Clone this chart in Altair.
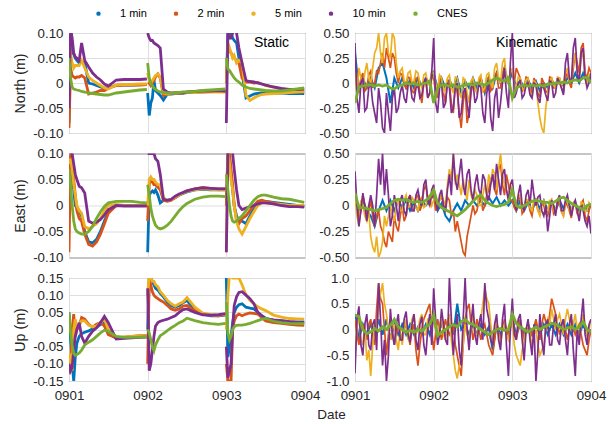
import altair as alt
import pandas as pd

SERIES = ["1 min", "2 min", "5 min", "10 min", "CNES"]
COLORS = ["#0072BD", "#D95319", "#EDB120", "#7E2F8E", "#77AC30"]
X_TICKS = [0, 1, 2, 3]
X_LABELS = ["0901", "0902", "0903", "0904"]

# sample offsets (days) inside each day for the static solutions
DAY_OFFSETS = [0.0, 0.02, 0.04, 0.06, 0.08, 0.1, 0.13, 0.16, 0.2, 0.25,
               0.3, 0.35, 0.4, 0.45, 0.5, 0.6, 0.7, 0.8, 0.9, 0.99]
# sample times (days) for the kinematic solutions (main and in-between samples)
K_TIMES = [round(0.05 * i, 3) for i in range(61)]
K_MID = [round(0.025 + 0.05 * i, 3) for i in range(60)]

# ---------------- Static North ----------------
NS_1 = [-0.08, 0.07, 0.06, 0.058, 0.05, 0.045, 0.04, 0.042, 0.04, 0.0, -0.002, -0.005, -0.008, -0.01, -0.01, -0.005, -0.004, -0.004, -0.003, -0.003,
        -0.02, -0.065, -0.04, -0.03, 0.005, -0.015, -0.02, -0.025, -0.034, -0.022, -0.022, -0.021, -0.02, -0.02, -0.019, -0.018, -0.017, -0.017, -0.016, -0.016,
        0.0, 0.1, 0.1, 0.1, 0.09, 0.085, 0.08, 0.05, 0.02, -0.03, -0.026, -0.022, -0.021, -0.02, -0.02, -0.02, -0.02, -0.021, -0.021, -0.021]
NS_2 = [-0.09, 0.03, 0.015, 0.012, 0.01, 0.012, 0.012, 0.015, 0.01, -0.022, -0.02, -0.018, -0.015, -0.015, -0.01, -0.005, -0.004, -0.004, -0.004, -0.003,
        0.0, 0.0, -0.005, 0.0, 0.005, 0.012, 0.018, 0.01, -0.025, -0.022, -0.021, -0.02, -0.02, -0.019, -0.019, -0.018, -0.018, -0.017, -0.017, -0.017,
        0.0, 0.07, 0.065, 0.06, 0.055, 0.05, 0.045, 0.04, 0.01, 0.002, 0.002, 0.0, 0.001, -0.002, -0.005, -0.008, -0.012, -0.015, -0.017, -0.018]
NS_5 = [0.09, 0.06, 0.04, 0.03, 0.035, 0.035, 0.035, 0.045, 0.03, 0.012, 0.005, 0.0, -0.005, -0.01, -0.012, -0.004, -0.003, -0.003, -0.002, -0.002,
        0.02, 0.005, 0.0, 0.005, 0.01, 0.015, 0.018, 0.012, -0.02, -0.022, -0.021, -0.021, -0.02, -0.02, -0.019, -0.019, -0.018, -0.018, -0.018, -0.018,
        0.0, 0.08, 0.07, 0.06, 0.05, 0.055, 0.04, 0.045, 0.04, -0.025, -0.035, -0.03, -0.026, -0.023, -0.022, -0.021, -0.02, -0.019, -0.018, -0.017]
NS_10 = [-0.05, 0.11, 0.09, 0.06, 0.052, 0.05, 0.045, 0.08, 0.045, 0.032, 0.02, 0.012, 0.006, -0.002, -0.006, 0.006, 0.007, 0.007, 0.007, 0.008,
         0.1, 0.09, 0.085, 0.085, 0.08, 0.078, 0.075, 0.07, -0.012, -0.018, -0.02, -0.02, -0.02, -0.02, -0.018, -0.017, -0.016, -0.016, -0.015, -0.016,
         -0.08, 0.1, 0.09, 0.09, 0.1, 0.11, 0.1, 0.07, 0.04, 0.005, 0.003, 0.002, 0.0, -0.002, -0.004, -0.008, -0.011, -0.013, -0.013, -0.012]
NS_C = [0.05, 0.01, -0.008, -0.012, -0.013, -0.014, -0.015, -0.017, -0.018, -0.02, -0.021, -0.022, -0.023, -0.024, -0.024, -0.02, -0.018, -0.016, -0.014, -0.013,
        0.04, 0.01, 0.0, -0.005, -0.01, -0.013, -0.016, -0.018, -0.019, -0.02, -0.02, -0.02, -0.019, -0.018, -0.018, -0.017, -0.015, -0.014, -0.013, -0.012,
        0.05, 0.028, 0.025, 0.02, 0.015, 0.01, 0.005, 0.002, -0.004, -0.008, -0.011, -0.012, -0.013, -0.014, -0.015, -0.016, -0.016, -0.014, -0.012, -0.01]

# ---------------- Static East ----------------
ES_1 = [0.0, 0.09, 0.06, 0.03, 0.0, -0.005, -0.01, -0.02, -0.05, -0.07, -0.072, -0.065, -0.05, -0.03, -0.012, 0.0, 0.0, 0.0, 0.0, 0.0,
        -0.09, 0.02, 0.025, 0.028, 0.025, 0.03, 0.02, 0.005, 0.01, 0.01, 0.012, 0.015, 0.02, 0.023, 0.026, 0.03, 0.031, 0.03, 0.03, 0.03,
        0.0, 0.1, 0.09, 0.06, 0.03, 0.0, -0.02, -0.03, -0.03, -0.035, -0.02, -0.005, 0.005, 0.008, 0.008, 0.006, 0.004, 0.002, 0.0, 0.0]
ES_2 = [-0.09, 0.1, 0.08, 0.05, 0.02, -0.01, -0.025, -0.03, -0.055, -0.075, -0.078, -0.07, -0.055, -0.035, -0.015, 0.0, 0.0, 0.0, 0.0, 0.0,
        -0.03, 0.04, 0.05, 0.045, 0.04, 0.04, 0.035, 0.03, 0.01, 0.008, 0.01, 0.015, 0.02, 0.025, 0.028, 0.032, 0.035, 0.033, 0.032, 0.032,
        0.0, 0.11, 0.1, 0.07, 0.04, 0.0, -0.03, -0.035, -0.025, -0.02, -0.01, 0.0, 0.008, 0.01, 0.008, 0.005, 0.002, 0.0, -0.002, -0.002]
ES_5 = [0.08, 0.09, 0.07, 0.04, 0.02, 0.0, -0.01, -0.015, -0.04, -0.045, -0.04, -0.035, -0.025, -0.01, 0.0, 0.002, 0.0, 0.0, 0.0, 0.0,
        0.0, 0.05, 0.055, 0.05, 0.05, 0.045, 0.04, 0.04, 0.015, 0.01, 0.012, 0.016, 0.02, 0.024, 0.027, 0.03, 0.032, 0.031, 0.03, 0.03,
        -0.09, 0.1, 0.08, 0.05, 0.03, 0.0, -0.03, -0.045, -0.055, -0.04, -0.025, -0.012, 0.0, 0.005, 0.005, 0.003, 0.002, 0.0, 0.0, 0.0]
ES_10 = [0.1, 0.12, 0.1, 0.08, 0.06, 0.05, 0.037, 0.034, 0.024, -0.03, -0.034, -0.032, -0.027, -0.018, -0.008, 0.0, -0.001, -0.001, -0.001, -0.001,
         0.1, 0.1, 0.1, 0.1, 0.1, 0.09, 0.085, 0.06, 0.012, 0.01, 0.012, 0.018, 0.022, 0.025, 0.028, 0.032, 0.034, 0.033, 0.032, 0.032,
         -0.09, 0.1, 0.12, 0.12, 0.1, 0.07, 0.03, 0.0, -0.008, -0.005, -0.002, 0.0, 0.003, 0.005, 0.005, 0.003, 0.0, -0.002, -0.002, -0.003]
ES_C = [0.07, 0.04, 0.0, -0.03, -0.045, -0.05, -0.053, -0.055, -0.055, -0.05, -0.04, -0.025, -0.012, -0.002, 0.005, 0.008, 0.008, 0.008, 0.006, 0.005,
        0.04, 0.02, -0.005, -0.02, -0.03, -0.038, -0.043, -0.045, -0.043, -0.038, -0.03, -0.02, -0.01, -0.002, 0.004, 0.012, 0.016, 0.018, 0.018, 0.017,
        0.06, 0.03, 0.0, -0.02, -0.03, -0.032, -0.03, -0.025, -0.02, -0.01, 0.0, 0.01, 0.017, 0.02, 0.02, 0.016, 0.013, 0.012, 0.009, 0.006]

# ---------------- Static Up ----------------
US_1 = [0.05, -0.03, -0.1, -0.15, -0.08, -0.04, -0.02, -0.012, -0.008, -0.004, 0.002, 0.006, 0.015, 0.02, -0.01, -0.026, -0.024, -0.022, -0.021, -0.02,
        0.0, 0.15, 0.15, 0.14, 0.13, 0.12, 0.115, 0.105, 0.095, 0.08, 0.07, 0.065, 0.07, 0.078, 0.085, 0.055, 0.045, 0.04, 0.04, 0.042,
        0.15, -0.08, -0.05, -0.02, 0.02, 0.05, 0.065, 0.072, 0.075, 0.065, 0.062, 0.06, 0.05, 0.04, 0.032, 0.027, 0.025, 0.023, 0.022, 0.022]
US_2 = [-0.13, -0.1, 0.0, 0.045, -0.02, 0.0, 0.01, 0.035, 0.03, 0.015, 0.007, 0.015, 0.02, 0.01, -0.015, -0.024, -0.022, -0.02, -0.018, -0.018,
        -0.1, 0.15, 0.13, 0.11, 0.1, 0.095, 0.09, 0.085, 0.08, 0.07, 0.06, 0.056, 0.06, 0.068, 0.07, 0.055, 0.046, 0.042, 0.04, 0.044,
        -0.1, -0.15, -0.15, -0.15, 0.0, 0.025, 0.04, 0.045, 0.04, 0.045, 0.048, 0.047, 0.045, 0.035, 0.025, 0.02, 0.018, 0.015, 0.013, 0.012]
US_5 = [-0.1, -0.07, -0.12, 0.0, 0.03, 0.0, 0.015, 0.025, 0.025, 0.012, 0.008, 0.01, 0.02, 0.03, 0.0, -0.022, -0.022, -0.02, -0.019, -0.018,
        0.1, 0.16, 0.15, 0.14, 0.14, 0.13, 0.125, 0.11, 0.1, 0.085, 0.075, 0.068, 0.075, 0.08, 0.093, 0.065, 0.048, 0.043, 0.042, 0.045,
        0.0, 0.1, 0.16, 0.16, 0.15, 0.15, 0.15, 0.15, 0.13, 0.1, 0.085, 0.075, 0.066, 0.06, 0.055, 0.042, 0.036, 0.032, 0.031, 0.03]
US_10 = [-0.1, -0.12, -0.11, -0.06, -0.02, 0.0, 0.02, -0.02, -0.04, -0.02, -0.005, 0.005, 0.02, 0.038, 0.02, -0.028, -0.026, -0.024, -0.023, -0.022,
         0.12, -0.12, -0.1, -0.06, -0.02, 0.01, 0.02, 0.024, 0.027, 0.03, 0.035, 0.04, 0.05, 0.058, 0.06, 0.05, 0.043, 0.042, 0.043, 0.046,
         -0.05, -0.14, -0.12, -0.1, 0.0, 0.07, 0.095, 0.108, 0.11, 0.1, 0.09, 0.075, 0.05, 0.04, 0.032, 0.028, 0.026, 0.023, 0.021, 0.02]
US_C = [0.05, -0.01, -0.045, -0.07, -0.075, -0.073, -0.068, -0.06, -0.045, -0.037, -0.03, -0.02, -0.01, -0.002, -0.005, -0.02, -0.023, -0.023, -0.022, -0.021,
        0.0, -0.01, -0.03, -0.05, -0.062, -0.045, -0.03, -0.018, -0.012, -0.003, 0.005, 0.012, 0.02, 0.025, 0.033, 0.026, 0.02, 0.017, 0.015, 0.018,
        0.08, -0.01, -0.03, -0.02, 0.0, 0.008, 0.012, 0.013, 0.013, 0.015, 0.018, 0.022, 0.026, 0.03, 0.032, 0.024, 0.02, 0.018, 0.017, 0.017]

# ---------------- Kinematic North ----------------
KN_1 = [0.3, -0.05, 0.05, -0.05, 0.05, -0.05, 0.15, 0.2, 0.05, -0.2,
        0.05, -0.05, 0.05, -0.05, 0.03, -0.05, 0.05, -0.03, 0.05, 0.0,
        0.1, -0.05, 0.05, -0.05, 0.03, -0.05, 0.05, -0.1, 0.02, -0.05,
        0.05, -0.05, 0.05, -0.1, 0.05, -0.05, 0.1, 0.0, 0.15, 0.0,
        0.1, -0.05, 0.03, -0.05, 0.03, -0.05, 0.02, -0.08, 0.0, -0.05,
        0.03, -0.03, 0.03, -0.03, 0.05, 0.0, 0.1, 0.0, 0.1, 0.0, 0.05]
KN_2 = [0.2, -0.1, 0.1, -0.05, 0.12, 0.0, 0.1, 0.3, 0.35, 0.15,
        0.25, 0.0, 0.08, -0.05, 0.05, -0.1, 0.05, -0.2, 0.02, -0.1,
        0.05, -0.15, 0.02, -0.2, 0.0, -0.3, -0.1, -0.45, -0.05, -0.3,
        0.0, -0.1, 0.05, -0.1, 0.05, -0.05, 0.1, -0.05, 0.15, 0.0,
        0.1, 0.15, 0.05, -0.05, 0.05, -0.1, 0.0, -0.15, 0.0, -0.1,
        0.05, -0.05, 0.05, -0.1, 0.1, -0.05, 0.3, 0.1, 0.4, 0.05, 0.1]
KN_2M = [0.05, 0.05, -0.08, 0.08, -0.05, 0.12, 0.2, 0.15, 0.25, 0.3,
         0.1, 0.1, -0.02, 0.06, -0.08, 0.05, -0.1, 0.0, -0.15, 0.05,
         -0.1, 0.05, -0.1, 0.02, -0.2, 0.0, -0.3, -0.2, -0.4, -0.1,
         -0.05, 0.02, -0.05, 0.05, -0.08, 0.08, -0.05, 0.1, 0.02, 0.12,
         0.0, 0.1, -0.08, 0.06, -0.05, 0.05, -0.1, 0.05, -0.08, 0.06,
         -0.05, 0.05, -0.05, 0.05, 0.0, 0.15, 0.2, 0.35, 0.1, 0.15]
KN_5 = [0.1, 0.15, -0.05, 0.2, 0.0, 0.3, 0.5, 0.2, 0.5, 0.25,
        0.45, 0.05, 0.15, 0.0, 0.12, 0.02, 0.1, -0.05, 0.1, 0.0,
        0.1, -0.1, 0.05, -0.05, 0.08, -0.1, 0.05, -0.15, 0.03, -0.2,
        0.05, -0.1, 0.08, -0.05, 0.1, -0.05, 0.2, 0.0, 0.25, 0.0,
        0.15, -0.05, 0.05, -0.08, 0.05, -0.15, 0.0, -0.35, -0.5, -0.1,
        0.05, -0.05, 0.05, 0.0, 0.15, 0.05, 0.3, 0.05, 0.3, 0.0, 0.1]
KN_5M = [-0.1, 0.05, 0.1, 0.05, 0.15, 0.35, 0.3, 0.45, 0.3, 0.5,
         0.2, 0.12, 0.02, 0.1, 0.0, 0.12, 0.0, 0.08, -0.02, 0.12,
         0.0, 0.08, -0.1, 0.05, -0.05, 0.06, -0.1, 0.05, -0.1, 0.02,
         -0.05, 0.05, -0.08, 0.08, 0.0, 0.15, 0.05, 0.2, 0.05, 0.1,
         0.0, 0.06, -0.05, 0.03, -0.1, 0.02, -0.2, -0.45, -0.25, 0.02,
         -0.02, 0.06, -0.02, 0.1, 0.0, 0.2, 0.1, 0.25, 0.05, 0.08]
KN_10 = [0.4, -0.3, 0.05, -0.25, 0.0, -0.3, -0.05, -0.45, -0.1, -0.48,
         -0.05, -0.25, -0.02, -0.2, 0.0, -0.18, -0.02, -0.12, 0.05, -0.1,
         0.45, -0.3, 0.0, -0.2, -0.05, -0.25, 0.0, -0.3, -0.05, -0.35,
         0.0, -0.15, -0.05, -0.4, 0.0, -0.48, -0.05, -0.2, 0.15, -0.25,
         0.5, -0.1, 0.02, -0.12, 0.0, -0.15, -0.02, -0.2, -0.05, -0.18,
         0.0, -0.1, 0.0, -0.12, 0.3, 0.0, 0.45, 0.0, 0.35, -0.05, 0.1]
KN_10M = [-0.15, 0.0, -0.28, -0.05, -0.2, -0.4, -0.2, -0.5, -0.3, -0.15,
          -0.3, -0.1, -0.15, -0.02, -0.15, -0.05, -0.15, 0.0, -0.15, 0.1,
          -0.2, -0.05, -0.25, 0.0, -0.3, -0.05, -0.35, -0.1, -0.2, -0.05,
          -0.2, 0.0, -0.3, -0.1, -0.35, -0.15, -0.35, 0.0, -0.1, 0.2,
          -0.15, 0.0, -0.15, -0.02, -0.12, 0.0, -0.15, 0.0, -0.12, 0.02,
          -0.15, 0.05, -0.05, 0.2, 0.05, 0.35, 0.1, 0.3, 0.05, 0.0]
KN_C = [-0.2, -0.04, -0.03, -0.02, -0.02, -0.03, -0.02, -0.03, -0.02, -0.05,
        -0.06, -0.03, -0.02, 0.0, -0.01, 0.0, -0.02, -0.01, 0.0, 0.02,
        -0.2, -0.05, -0.02, -0.02, -0.03, -0.02, -0.04, -0.03, -0.02, -0.01,
        -0.02, 0.0, -0.01, -0.02, 0.0, 0.03, 0.05, 0.03, 0.02, 0.05,
        -0.15, -0.05, -0.03, -0.02, -0.03, -0.02, -0.03, -0.02, -0.03, -0.01,
        -0.01, 0.0, 0.0, 0.01, 0.0, 0.02, 0.03, 0.02, 0.05, 0.06, 0.0]

# ---------------- Kinematic East ----------------
KE_1 = [0.1, -0.05, 0.05, -0.05, -0.1, -0.2, -0.05, 0.05, -0.05, 0.05,
        -0.05, 0.05, -0.02, 0.05, -0.05, 0.03, -0.05, 0.05, 0.0, 0.05,
        0.1, -0.05, 0.02, -0.1, -0.15, -0.05, 0.02, -0.05, 0.05, 0.0,
        0.05, 0.0, 0.05, 0.0, 0.08, 0.02, 0.08, 0.0, 0.05, 0.0,
        0.05, -0.05, 0.05, -0.05, 0.03, -0.05, 0.05, -0.03, 0.05, -0.05,
        0.03, -0.05, 0.05, -0.03, 0.05, -0.05, 0.03, -0.05, 0.02, -0.05, 0.0]
KE_2 = [0.0, -0.15, 0.1, -0.1, 0.05, -0.2, -0.05, -0.25, -0.4, -0.3,
        -0.1, -0.25, 0.0, -0.1, 0.1, -0.05, 0.1, 0.0, 0.2, 0.0,
        0.1, 0.0, 0.1, -0.05, 0.05, -0.05, -0.15, -0.35, -0.48, -0.2,
        0.0, -0.05, 0.1, 0.0, 0.15, 0.3, 0.1, 0.4, 0.1, 0.2,
        0.05, -0.05, 0.1, -0.05, 0.05, -0.1, 0.05, -0.08, 0.0, -0.1,
        0.05, -0.05, 0.02, -0.1, 0.0, -0.12, 0.02, -0.1, 0.05, -0.15, 0.02]
KE_2M = [0.05, -0.05, 0.0, -0.05, -0.1, -0.1, -0.2, -0.35, -0.25, -0.35,
         -0.2, -0.1, -0.15, 0.05, -0.05, 0.08, -0.05, 0.15, 0.05, 0.1,
         -0.05, 0.05, 0.0, 0.08, -0.1, -0.25, -0.25, -0.45, -0.3, -0.1,
         -0.08, 0.05, -0.05, 0.1, 0.25, 0.15, 0.35, 0.2, 0.3, 0.05,
         -0.02, 0.05, -0.08, 0.02, -0.05, 0.02, -0.05, 0.03, -0.08, 0.0,
         -0.08, 0.02, -0.06, 0.02, -0.05, 0.0, -0.08, 0.02, -0.1, -0.05]
KE_5 = [0.1, -0.2, 0.0, -0.15, -0.3, -0.45, -0.5, -0.35, -0.2, 0.0,
        -0.15, 0.05, -0.05, 0.1, 0.0, 0.05, -0.05, 0.08, 0.0, 0.1,
        0.05, 0.0, 0.1, 0.0, 0.35, 0.5, 0.3, 0.1, 0.15, 0.25,
        0.05, 0.1, 0.0, 0.2, 0.3, 0.35, 0.15, 0.5, 0.2, 0.1,
        0.15, 0.0, 0.1, 0.0, 0.05, -0.05, 0.05, -0.1, 0.05, -0.05,
        0.05, -0.05, 0.05, -0.1, 0.05, -0.05, 0.05, -0.1, 0.02, -0.05, 0.0]
KE_5M = [-0.1, 0.05, -0.1, -0.05, -0.4, -0.3, -0.45, -0.1, -0.1, -0.1,
         0.0, -0.05, 0.05, -0.02, 0.08, -0.02, 0.05, -0.02, 0.08, 0.0,
         0.1, 0.05, 0.05, 0.2, 0.25, 0.2, 0.2, 0.25, 0.05, 0.1,
         0.15, 0.0, 0.1, 0.1, 0.2, 0.3, 0.35, 0.3, 0.15, 0.2,
         0.05, 0.08, -0.02, 0.06, -0.02, 0.06, -0.05, 0.03, -0.05, 0.05,
         -0.05, 0.05, -0.05, 0.03, -0.05, 0.03, -0.05, 0.03, -0.05, 0.03]
KE_10 = [0.33, -0.2, 0.12, -0.15, 0.1, -0.2, 0.45, 0.5, 0.35, -0.2,
         0.1, -0.15, 0.1, -0.1, 0.1, -0.05, 0.15, 0.0, 0.25, 0.0,
         0.2, -0.05, 0.15, -0.05, 0.3, 0.5, 0.15, 0.45, 0.1, 0.35,
         0.05, 0.3, 0.1, 0.25, 0.05, 0.3, 0.4, 0.1, 0.35, 0.05,
         0.25, -0.05, 0.2, -0.05, 0.15, 0.25, 0.0, 0.1, -0.1, -0.25,
         0.05, -0.1, 0.1, -0.05, 0.1, -0.1, 0.05, -0.15, -0.05, -0.2, -0.27]
KE_10M = [0.0, -0.05, 0.0, 0.0, 0.0, 0.1, 0.2, 0.1, 0.1, -0.1,
          0.0, 0.05, -0.05, 0.05, -0.05, 0.1, 0.05, 0.2, 0.05, 0.15,
          0.05, 0.1, 0.0, 0.15, 0.1, 0.25, 0.3, 0.2, 0.3, 0.15,
          0.2, 0.15, 0.3, 0.1, 0.2, 0.15, 0.25, 0.3, 0.15, 0.2,
          0.05, 0.1, 0.0, 0.1, 0.0, 0.1, 0.08, -0.05, 0.0, -0.1,
          0.0, 0.05, -0.05, 0.05, 0.0, 0.0, -0.05, 0.0, -0.15, -0.1]
KE_C = [0.12, -0.02, -0.02, -0.03, -0.04, -0.05, -0.04, -0.03, -0.02, 0.02,
        0.05, 0.06, 0.05, 0.06, 0.04, 0.03, 0.04, 0.03, 0.05, 0.08,
        0.15, 0.02, -0.02, -0.04, -0.06, -0.08, -0.1, -0.07, -0.04, 0.0,
        0.04, 0.08, 0.1, 0.05, 0.02, 0.0, -0.01, 0.0, 0.01, 0.03,
        0.15, 0.0, -0.02, 0.0, 0.02, 0.04, 0.05, 0.04, 0.03, 0.03,
        0.02, 0.04, 0.07, 0.08, 0.05, 0.02, 0.0, -0.02, -0.04, 0.0, 0.01]

# ---------------- Kinematic Up ----------------
KU_1 = [0.3, -0.2, 0.1, -0.1, 0.1, -0.1, 0.2, -0.1, 0.2, -0.2,
        0.1, -0.1, 0.1, -0.1, 0.1, -0.1, 0.05, -0.1, 0.1, -0.1,
        0.2, -0.1, 0.1, -0.1, 0.1, -0.1, 0.5, 0.0, 0.1, -0.1,
        0.1, -0.1, 0.1, -0.1, 0.05, -0.4, 0.1, -0.1, 0.1, -0.1,
        0.2, -0.1, 0.1, -0.1, 0.1, -0.1, 0.1, -0.1, 0.1, -0.1,
        0.1, -0.1, 0.1, -0.1, 0.1, -0.1, 0.1, -0.1, 0.1, -0.1, 0.0]
KU_2 = [0.2, -0.3, 0.1, -0.2, 0.2, -0.3, 0.9, 0.5, -0.5, 0.2,
        -0.3, 0.1, -0.2, 0.1, -0.3, 0.1, -0.7, 0.0, 0.3, 0.5,
        -0.4, 0.2, -0.2, 0.2, -0.1, 0.1, -0.5, -0.9, 0.2, 0.5,
        -0.2, 0.2, -0.2, 0.1, -0.3, -0.5, 0.1, -0.2, 0.2, -0.1,
        0.2, -0.2, 0.2, -0.2, 0.1, -0.1, 0.2, -0.2, 0.3, 0.0,
        0.6, 0.3, -0.1, 0.2, -0.2, 0.2, -0.1, 0.1, -0.3, -0.5, 0.0]
KU_2M = [-0.1, 0.1, -0.1, 0.1, -0.1, 0.4, 0.6, 0.0, -0.1, 0.0,
         -0.1, -0.1, 0.0, -0.1, 0.0, -0.4, -0.3, 0.2, 0.4, 0.0,
         -0.1, 0.0, 0.0, 0.0, 0.0, -0.3, -0.7, -0.3, 0.4, 0.1,
         0.0, 0.0, 0.0, -0.1, -0.4, -0.2, -0.05, 0.0, 0.0, 0.05,
         0.0, 0.0, 0.0, -0.05, 0.0, 0.05, 0.0, 0.1, 0.15, 0.3,
         0.45, 0.1, 0.05, 0.0, 0.0, 0.05, 0.0, -0.1, -0.4, -0.2]
KU_5 = [-0.5, 0.3, -0.3, -0.6, -0.9, 0.2, 0.5, 0.9, 0.3, -0.2,
        0.1, -0.4, -0.3, 0.2, -0.1, 0.3, 0.0, 0.3, -0.1, 0.2,
        0.3, -0.2, 0.2, -0.2, 0.3, -0.5, -0.95, -0.6, 0.1, -0.2,
        0.3, -0.1, 0.2, 0.8, 0.5, -0.2, 0.2, -0.3, 0.1, -0.2,
        0.2, -0.5, -0.7, -0.2, 0.1, -0.3, 0.0, -0.5, -0.3, 0.2,
        0.4, 0.0, 0.3, -0.1, 0.4, 0.0, 0.3, -0.2, 0.3, -0.1, 0.2]
KU_5M = [0.0, -0.2, 0.1, -0.4, -0.3, -0.1, 0.7, 0.5, 0.0, 0.0,
         -0.2, 0.0, 0.0, -0.2, 0.2, -0.1, 0.2, -0.1, 0.2, -0.1,
         0.0, 0.1, -0.1, 0.1, -0.2, -0.8, -0.7, -0.3, -0.1, 0.1,
         -0.1, 0.1, 0.5, 0.6, 0.1, 0.0, -0.1, 0.0, -0.1, 0.0,
         -0.3, -0.6, -0.4, 0.0, -0.1, -0.1, -0.3, -0.4, 0.0, 0.1,
         0.2, 0.2, 0.1, 0.2, 0.2, 0.1, 0.0, 0.1, 0.1, 0.0]
KU_10 = [-0.85, 0.45, -0.5, 0.3, -0.4, 0.2, 0.9, -0.7, -1.0, 0.4,
         -0.3, 0.3, -0.2, 0.35, -0.25, 0.3, -0.4, 0.25, -0.5, 0.3,
         0.8, -0.3, 0.4, -0.2, 1.0, -0.5, 0.3, -0.7, 1.0, -0.4,
         0.5, -0.3, 0.3, 0.9, 0.2, -0.3, 0.3, -0.4, 0.5, -0.9,
         0.6, -0.2, 0.3, -0.6, 0.2, -0.5, -1.0, 0.3, -0.5, 0.2,
         -0.3, 0.3, -0.3, 0.2, -0.5, 0.3, -0.9, -0.3, 0.6, -0.3, 0.2]
KU_10M = [0.2, -0.3, 0.1, -0.3, 0.1, -0.4, 0.2, -0.2, -0.5, -0.1,
          0.1, -0.2, 0.2, -0.1, 0.1, -0.2, 0.1, -0.3, 0.0, -0.3,
          0.2, -0.1, 0.1, -0.3, 0.2, 0.0, -0.4, 0.2, 0.0, 0.1,
          -0.1, 0.1, -0.2, 0.4, -0.2, 0.1, -0.2, 0.2, -0.3, 0.0,
          -0.1, 0.2, -0.2, 0.0, -0.2, 0.1, -0.4, -0.2, 0.1, -0.3,
          0.1, -0.2, 0.1, -0.2, 0.1, -0.4, 0.0, 0.2, -0.1, 0.1]
KU_C = [0.28, 0.25, 0.0, -0.08, -0.05, 0.02, -0.03, 0.05, 0.0, 0.08,
        0.2, 0.05, 0.0, -0.05, -0.02, -0.05, 0.0, -0.03, 0.05, 0.1,
        0.28, -0.12, -0.05, 0.0, 0.05, 0.1, 0.05, 0.15, 0.2, 0.12,
        0.1, 0.05, 0.0, -0.05, -0.1, -0.05, 0.0, 0.02, -0.02, 0.0,
        0.3, 0.12, 0.05, 0.0, -0.05, 0.0, 0.05, 0.0, 0.05, 0.08,
        0.12, 0.1, 0.05, 0.0, 0.03, 0.05, 0.0, 0.05, 0.15, 0.0, -0.05]

# y-axis tick values
TICKS_S = [-0.1, -0.05, 0, 0.05, 0.1]
TICKS_SU = [-0.15, -0.1, -0.05, 0, 0.05, 0.1, 0.15]
TICKS_K = [-0.5, -0.25, 0, 0.25, 0.5]
TICKS_KU = [-1.0, -0.5, 0, 0.5, 1.0]

FONT = "Liberation Sans"
TXT = "#262626"
GRID = "#dedede"
FS = 13.3
FT = 14.2
PW = 236


def static_frame(arrs):
    rows = []
    n = len(DAY_OFFSETS)
    for name, vals in zip(SERIES, arrs):
        for i, v in enumerate(vals):
            rows.append({"t": i // n + DAY_OFFSETS[i % n], "v": v, "series": name, "day": i // n})
    return pd.DataFrame(rows)


def kin_frame(arrs, mids):
    rows = []
    for name, vals, mid in zip(SERIES, arrs, mids):
        for t, v in zip(K_TIMES, vals):
            rows.append({"t": t, "v": v, "series": name, "day": 0})
        if mid:
            for t, v in zip(K_MID, mid):
                rows.append({"t": t, "v": v, "series": name, "day": 0})
    return pd.DataFrame(rows).sort_values(["series", "t"]).reset_index(drop=True)


XLAB = "[" + ",".join("'%s'" % s for s in X_LABELS) + "][datum.value]"


def ylab(dec):
    return ("datum.value == 0 ? '0' : (datum.value < 0 ? '-' : '') + format(abs(datum.value), '.%df')" % dec)


LEGEND = alt.Legend(orient="none", legendX=24, legendY=-25, direction="horizontal", title=None,
                    symbolType="circle", symbolSize=6, symbolStrokeWidth=2, labelFontSize=11,
                    labelFont=FONT, labelColor="#000", labelOffset=16, columnPadding=23.5)


def panel(df, ticks, dec, ytitle, show_x, height, widths, label=None, label_x=0, xtitle=None):
    xaxis = dict(values=X_TICKS, labelExpr=XLAB, labels=show_x, grid=True,
                 ticks=False, domain=False, labelFlush=False, labelPadding=7)
    if xtitle:
        xaxis.update(title=xtitle, titleX=-24, titleY=37, titleAlign="center",
                     titleBaseline="alphabetic", titleFontSize=13.5)
    else:
        xaxis["title"] = None
    xenc = alt.X("t:Q", scale=alt.Scale(domain=[0, 3], nice=False, zero=False), axis=alt.Axis(**xaxis))
    yaxis = dict(values=ticks, labelExpr=ylab(dec), grid=True, ticks=False, domain=False,
                 labelPadding=6, titlePadding=5)
    yaxis["title"] = ytitle if ytitle else None
    yenc = alt.Y("v:Q", scale=alt.Scale(domain=[ticks[0], ticks[-1]], nice=False, zero=False),
                 axis=alt.Axis(**yaxis))
    cenc = alt.Color("series:N", scale=alt.Scale(domain=SERIES, range=COLORS), legend=LEGEND)
    layers = []
    for s, w in zip(SERIES, widths):
        layers.append(alt.Chart(df[df["series"] == s]).mark_line(clip=True, strokeWidth=w)
                      .encode(x=xenc, y=yenc, color=cenc, detail="day:N"))
    if label:
        layers.append(alt.Chart(pd.DataFrame({"label": [label]}))
                      .mark_text(align="left", baseline="middle", fontSize=14, font=FONT, color="#000")
                      .encode(x=alt.value(label_x), y=alt.value(10), text="label:N"))
    return alt.layer(*layers).properties(width=PW, height=height)


SW_S = [2.8, 2.8, 2.8, 2.8, 2.8]
SW_K = [2.0, 1.7, 1.7, 1.7, 2.8]

ns = panel(static_frame([NS_1, NS_2, NS_5, NS_10, NS_C]), TICKS_S, 2, "North (m)", False, 100, SW_S, "Static", 185)
nk = panel(kin_frame([KN_1, KN_2, KN_5, KN_10, KN_C], [None, KN_2M, KN_5M, KN_10M, None]),
           TICKS_K, 2, None, False, 100, SW_K, "Kinematic", 141)
es = panel(static_frame([ES_1, ES_2, ES_5, ES_10, ES_C]), TICKS_S, 2, "East (m)", False, 104, SW_S)
ek = panel(kin_frame([KE_1, KE_2, KE_5, KE_10, KE_C], [None, KE_2M, KE_5M, KE_10M, None]),
           TICKS_K, 2, None, False, 104, SW_K)
us = panel(static_frame([US_1, US_2, US_5, US_10, US_C]), TICKS_SU, 2, "Up (m)", True, 103, SW_S)
uk = panel(kin_frame([KU_1, KU_2, KU_5, KU_10, KU_C], [None, KU_2M, KU_5M, KU_10M, None]),
           TICKS_KU, 1, None, True, 103, SW_K, xtitle="Date")

chart = alt.concat(ns, nk, es, ek, us, uk, columns=2, spacing={"row": 20.5, "column": 50},
                   bounds="flush").properties(
    padding={"left": 13, "top": 8, "right": 5, "bottom": 5},
).configure_axis(
    labelFont=FONT, titleFont=FONT, labelFontSize=FS, titleFontSize=FT, labelColor=TXT,
    titleColor=TXT, gridColor=GRID, gridWidth=1, titleFontWeight="normal"
).configure_view(stroke="#5c5c5c", strokeWidth=1)

chart.save("out.html", embed_options={"renderer": "svg", "actions": False})
